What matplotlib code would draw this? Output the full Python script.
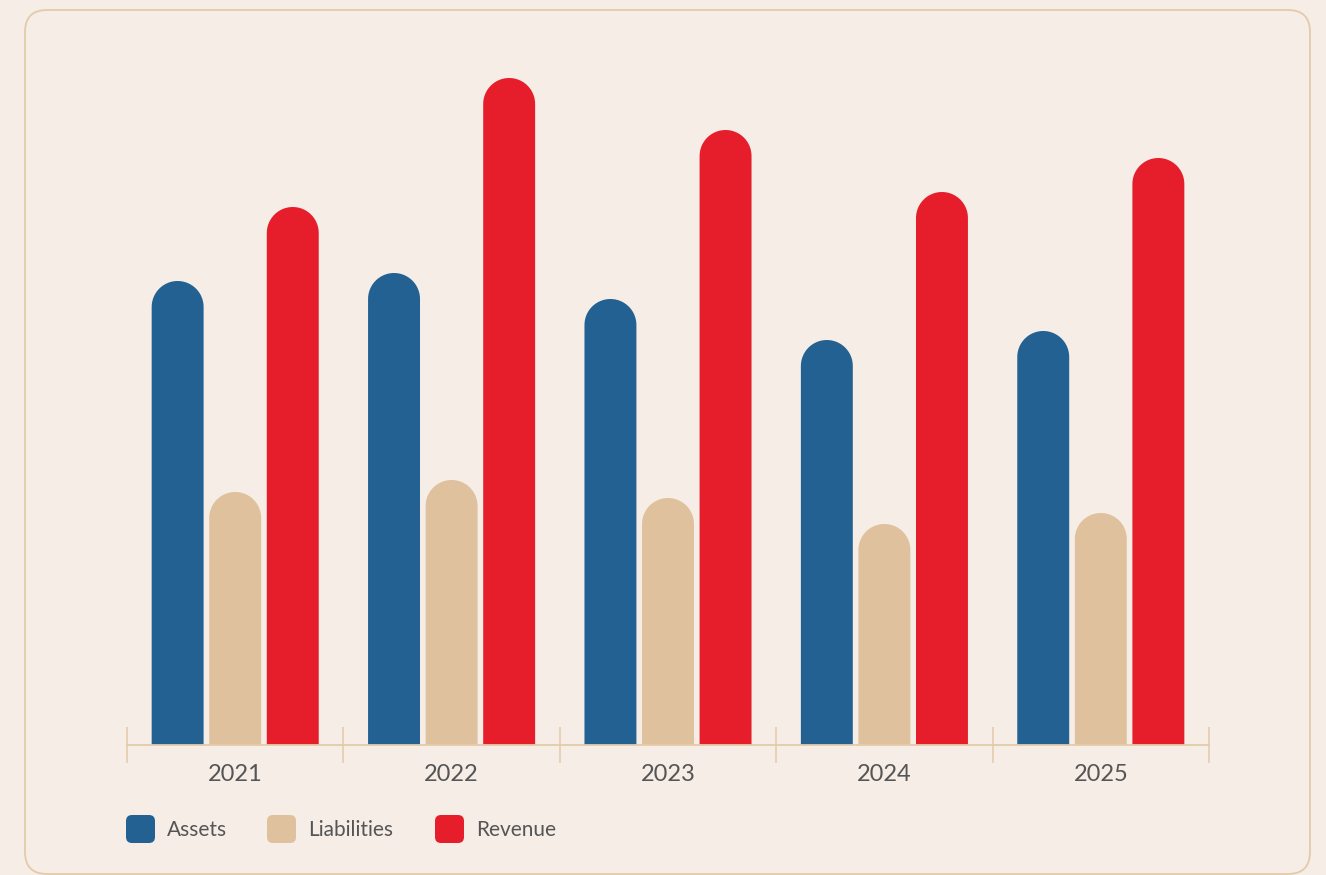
import matplotlib.pyplot as plt
from matplotlib.patches import FancyBboxPatch, PathPatch
from matplotlib.path import Path
import numpy as np

# Chart data
years = ['2021', '2022', '2023', '2024', '2025']
assets = [92.8, 94.4, 89.2, 81.0, 82.8]
liabilities = [50.6, 53.0, 49.4, 44.2, 46.4]
revenue = [107.6, 133.4, 123.0, 110.6, 117.4]

series_names = ['Assets', 'Liabilities', 'Revenue']
colors = ['#226192', '#DFC19D', '#E61E2B']
bg = '#F5EDE6'
line_col = '#E3CBA9'
text_col = '#555555'

W, H = 1326, 875
plt.rcParams['font.family'] = ['Lato', 'DejaVu Sans']
fig = plt.figure(figsize=(W / 100, H / 100), dpi=100, facecolor=bg)

# overlay in pixel units for the card frame and legend
deco = fig.add_axes([0, 0, 1, 1])
deco.set_xlim(0, W)
deco.set_ylim(H, 0)
deco.axis('off')
deco.add_patch(FancyBboxPatch((25, 10), 1285, 864,
                              boxstyle='round,pad=0,rounding_size=22',
                              facecolor='none', edgecolor=line_col, linewidth=1.3))

ax = fig.add_axes([127 / W, (H - 745) / H, 1082 / W, 700 / H])
ax.set_facecolor('none')
ax.set_xlim(-0.5, len(years) - 0.5)
ax.set_ylim(0, 140)

# pixel scale so the round caps stay circular
px_x = ax.transData.transform((1, 0))[0] - ax.transData.transform((0, 0))[0]
px_y = ax.transData.transform((0, 1))[1] - ax.transData.transform((0, 0))[1]

width = 0.24
offset = 0.266
x = np.arange(len(years))
r = width / 2
cap = r * px_x / px_y
theta = np.linspace(0, np.pi, 40)


def rounded_bar(xc, v, col):
    top = v - cap
    arc = np.column_stack([xc + r * np.cos(theta), top + cap * np.sin(theta)])
    verts = np.vstack([[[xc + r, 0]], arc, [[xc - r, 0]], [[xc + r, 0]]])
    codes = [Path.MOVETO] + [Path.LINETO] * (len(verts) - 2) + [Path.CLOSEPOLY]
    ax.add_patch(PathPatch(Path(verts, codes), facecolor=col, linewidth=0))


for k, (vals, col) in enumerate(zip([assets, liabilities, revenue], colors)):
    for xi, v in zip(x + (k - 1) * offset, vals):
        rounded_bar(xi, v, col)

for s in ['left', 'right', 'top']:
    ax.spines[s].set_visible(False)
ax.spines['bottom'].set_color(line_col)
ax.spines['bottom'].set_linewidth(1.3)
ax.set_yticks([])

bounds = np.arange(len(years) + 1) - 0.5
ax.set_xticks(bounds)
ax.set_xticklabels([])
ax.tick_params(axis='x', which='major', direction='inout', length=26, width=1.1, color=line_col)
ax.set_xticks(x, minor=True)
ax.set_xticklabels(years, minor=True, fontsize=17, color=text_col)
ax.tick_params(axis='x', which='minor', length=0, pad=13.5)

# legend with rounded swatches
leg_x = [126, 267, 435]
for lx, name, col in zip(leg_x, series_names, colors):
    deco.add_patch(FancyBboxPatch((lx, 815), 29, 28,
                                  boxstyle='round,pad=0,rounding_size=6',
                                  facecolor=col, edgecolor='none'))
    deco.text(lx + 41, 830, name, fontsize=15, color=text_col, va='center', ha='left')

fig.savefig('out.png', dpi=100, facecolor=bg)
